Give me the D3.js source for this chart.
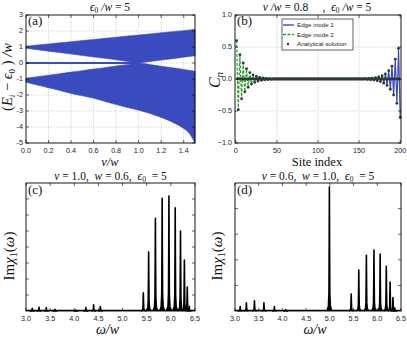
<!DOCTYPE html>
<html lang="en">
<head>
<meta charset="UTF-8">
<title>Edge modes</title>
<style>
  body { margin: 0; background: #fff; }
  svg { display: block; }
  .grid line { stroke: #aaa; stroke-width: 0.6; stroke-dasharray: 1,1.5; }
</style>
</head>
<body>
<svg id="fig" width="407" height="339"></svg>
<script src="https://d3js.org/d3.v7.min.js"></script>
<script>
// ---- panel (a): band edges ----
var vGrid      = [0, 0.1, 0.2, 0.3, 0.4, 0.5, 0.6, 0.7, 0.8, 0.9, 1.0, 1.1, 1.2, 1.3, 1.4, 1.45, 1.5];
var upperTop   = [1.05, 1.12, 1.19, 1.26, 1.33, 1.4, 1.47, 1.54, 1.61, 1.68, 1.75, 1.82, 1.89, 1.96, 2.02, 2.06, 2.1];
var upperBot   = [0.92, 0.83, 0.74, 0.65, 0.56, 0.47, 0.38, 0.29, 0.2, 0.1, 0.0, 0.09, 0.18, 0.27, 0.36, 0.41, 0.45];
var lowerTop   = [-0.95, -0.86, -0.76, -0.67, -0.57, -0.48, -0.38, -0.29, -0.19, -0.1, 0.0, -0.1, -0.2, -0.3, -0.4, -0.46, -0.52];
var lowerBot   = [-1.2, -1.38, -1.55, -1.72, -1.9, -2.05, -2.2, -2.4, -2.6, -2.78, -2.95, -3.15, -3.4, -3.7, -4.1, -4.4, -5.0];
var zeroModeV  = [0, 1.0];
var aXTicks = [0, 0.2, 0.4, 0.6, 0.8, 1.0, 1.2, 1.4];
var aYTicks = [3, 2, 1, 0, -1, -2, -3, -4, -5];

// ---- panel (b): edge mode amplitudes (every other site) ----
var mode2Amps = [0.6, -0.48, 0.38, -0.31, 0.25, -0.2, 0.16, -0.13, 0.1, -0.08, 0.065, -0.052, 0.041, -0.033, 0.026, -0.021, 0.017, -0.013, 0.011, -0.009, 0.007, -0.005];
var mode1Amps = [-0.6, 0.48, -0.38, 0.31, -0.25, 0.2, -0.16, 0.13, -0.1, 0.08, -0.065, 0.052, -0.041, 0.033, -0.026, 0.021, -0.017, 0.013, -0.011, 0.009, -0.007, 0.005];
var nSites = 200;
var bXTicks = [0, 50, 100, 150, 200];
var bYTicks = [1.0, 0.5, 0.0, -0.5, -1.0];

// ---- panels (c), (d): peak positions and heights ----
var cPeakPos = [3.13, 3.27, 3.42, 3.6, 4.03, 4.24, 4.4, 4.54, 5.43, 5.54, 5.68, 5.82, 5.96, 6.09, 6.2, 6.28, 6.34, 6.38];
var cPeakH   = [0.17, 0.23, 0.21, 0.1, 0.05, 0.21, 0.38, 0.28, 1.13, 3.68, 5.8, 7.04, 7.19, 6.45, 5.0, 3.19, 1.49, 0.3];
var dPeakPos = [3.11, 3.24, 3.41, 3.61, 3.83, 4.07, 4.99, 5.45, 5.61, 5.77, 5.93, 6.06, 6.19, 6.27, 6.33, 6.37];
var dPeakH   = [0.17, 0.32, 0.4, 0.32, 0.17, 0.05, 4.84, 0.66, 1.6, 2.18, 2.38, 2.22, 1.75, 1.13, 0.53, 0.12];
var wTicks = [3.0, 3.5, 4.0, 4.5, 5.0, 5.5, 6.0, 6.5];

var svg = d3.select("#fig");
var blue = "#3a4bc0", green = "#2ea02a", dotColor = "#2e3a33";
var SANS = "'Liberation Sans', Arial, sans-serif";
var SERIF = "'Liberation Serif', 'Times New Roman', serif";

function mathText(g, italic) {
  return g.append("text").style("font-family", SERIF)
    .style("font-style", italic ? "italic" : "normal").attr("fill", "#111");
}

function frame(g, x, y) {
  var r = x.range(), s = y.range();
  g.append("rect").attr("x", r[0]).attr("y", s[1])
    .attr("width", r[1] - r[0]).attr("height", s[0] - s[1])
    .attr("fill", "none").attr("stroke", "#000").attr("stroke-width", 0.9);
}

function innerTicks(g, x, y, xt, yt) {
  var r = x.range(), s = y.range();
  xt.forEach(function(t) {
    g.append("line").attr("x1", x(t)).attr("x2", x(t)).attr("y1", s[0]).attr("y2", s[0] - 3).attr("stroke", "#000").attr("stroke-width", 0.6);
    g.append("line").attr("x1", x(t)).attr("x2", x(t)).attr("y1", s[1]).attr("y2", s[1] + 3).attr("stroke", "#000").attr("stroke-width", 0.6);
  });
  yt.forEach(function(t) {
    g.append("line").attr("x1", r[0]).attr("x2", r[0] + 3).attr("y1", y(t)).attr("y2", y(t)).attr("stroke", "#000").attr("stroke-width", 0.6);
    g.append("line").attr("x1", r[1]).attr("x2", r[1] - 3).attr("y1", y(t)).attr("y2", y(t)).attr("stroke", "#000").attr("stroke-width", 0.6);
  });
}

function grid(g, x, y, xt, yt) {
  var r = x.range(), s = y.range();
  var gg = g.append("g").attr("class", "grid");
  xt.forEach(function(t) { gg.append("line").attr("x1", x(t)).attr("x2", x(t)).attr("y1", s[0]).attr("y2", s[1]); });
  yt.forEach(function(t) { gg.append("line").attr("x1", r[0]).attr("x2", r[1]).attr("y1", y(t)).attr("y2", y(t)); });
}

function tickLabels(g, x, y, xt, yt, xfmt, yfmt) {
  var s = y.range(), r = x.range();
  xt.forEach(function(t) {
    g.append("text").style("font", "7.2px " + SANS).attr("fill", "#222")
      .attr("x", x(t)).attr("y", s[0] + 9.5).attr("text-anchor", "middle").text(xfmt(t));
  });
  if (yt) yt.forEach(function(t) {
    g.append("text").style("font", "7.2px " + SANS).attr("fill", "#222")
      .attr("x", r[0] - 3).attr("y", y(t) + 2).attr("text-anchor", "end").text(yfmt(t));
  });
}

function panelLabel(g, x, y, txt) {
  mathText(g, false).attr("x", x).attr("y", y).style("font-size", "13px").text(txt);
}

function sub(t, s, size, dy) {
  t.append("tspan").attr("dy", dy || 2.5).style("font-size", size || "7.5px").style("font-style", "normal").text(s);
}

// ================= (a) =================
(function() {
  var g = svg.append("g");
  var x = d3.scaleLinear().domain([0, 1.5]).range([26, 195]);
  var y = d3.scaleLinear().domain([-5, 3]).range([143, 15]);
  grid(g, x, y, aXTicks.slice(1), aYTicks.slice(1, -1));

  var rows = vGrid.map(function(v, i) {
    return { v: v, ut: upperTop[i], ub: upperBot[i], lt: lowerTop[i], lb: lowerBot[i] };
  });
  var upper = d3.area().x(function(d) { return x(d.v); })
    .y0(function(d) { return y(d.ub); }).y1(function(d) { return y(d.ut); });
  var lower = d3.area().x(function(d) { return x(d.v); })
    .y0(function(d) { return y(d.lb); }).y1(function(d) { return y(d.lt); }).curve(d3.curveMonotoneX);
  g.append("path").attr("d", upper(rows)).attr("fill", blue).attr("stroke", blue).attr("stroke-width", 0.6);
  g.append("path").attr("d", lower(rows)).attr("fill", blue).attr("stroke", blue).attr("stroke-width", 0.6);
  g.append("line").attr("x1", x(zeroModeV[0])).attr("x2", x(zeroModeV[1]))
    .attr("y1", y(0)).attr("y2", y(0)).attr("stroke", blue).attr("stroke-width", 1.8);

  innerTicks(g, x, y, aXTicks, aYTicks);
  frame(g, x, y);
  tickLabels(g, x, y, aXTicks, aYTicks,
    d3.format(".1f"), function(t) { return t < 0 ? "-" + (-t) : "" + t; });
  panelLabel(g, 28, 25, "(a)");

  var t = mathText(g, true).attr("x", 110).attr("y", 10.5).attr("text-anchor", "middle").style("font-size", "11.5px");
  t.append("tspan").text("ϵ");
  sub(t, "0");
  t.append("tspan").attr("dy", -2.5).text(" /w");
  t.append("tspan").style("font-style", "normal").text(" = 5");

  mathText(g, true).attr("x", 110).attr("y", 166).attr("text-anchor", "middle")
    .style("font-size", "12.5px").text("v/w");

  var yl = mathText(g, true).attr("transform", "translate(12,77) rotate(-90)")
    .attr("text-anchor", "middle").style("font-size", "14.5px");
  yl.append("tspan").style("font-style", "normal").text("(");
  yl.append("tspan").text("E");
  yl.append("tspan").attr("dy", 3).style("font-size", "9px").text("i");
  yl.append("tspan").attr("dy", -3).style("font-style", "normal").text(" − ");
  yl.append("tspan").text("ϵ");
  yl.append("tspan").attr("dy", 3).style("font-size", "9px").style("font-style", "normal").text("0");
  yl.append("tspan").attr("dy", -3).style("font-style", "normal").text(" )");
  yl.append("tspan").text(" /w");
})();

// ================= (b) =================
(function() {
  var g = svg.append("g");
  var x = d3.scaleLinear().domain([-1, 201]).range([235, 401]);
  var y = d3.scaleLinear().domain([-1, 1]).range([143, 15]);
  grid(g, x, y, [50, 100, 150], [0.5, 0, -0.5]);

  var sites = d3.range(1, nSites + 1);
  var mode2 = sites.map(function(s) {
    var k = (s - 1) / 2;
    return { s: s, c: (s % 2 === 1 && k < mode2Amps.length) ? mode2Amps[k] : 0 };
  });
  var mode1 = sites.map(function(s) {
    var k = (nSites - s) / 2;
    return { s: s, c: (s % 2 === 0 && k < mode1Amps.length) ? mode1Amps[k] : 0 };
  });
  var line = d3.line().x(function(d) { return x(d.s); }).y(function(d) { return y(d.c); });

  g.append("path").attr("d", line(mode1)).attr("fill", "none").attr("stroke", blue).attr("stroke-width", 1.2);
  g.append("path").attr("d", line(mode2)).attr("fill", "none").attr("stroke", green).attr("stroke-width", 1.2)
    .attr("stroke-dasharray", "3,1.5");
  var analytic = mode2.slice(0, 100).concat(mode1.slice(100));
  g.selectAll("circle.pt").data(analytic).enter().append("circle").attr("class", "pt")
    .attr("cx", function(d) { return x(d.s); }).attr("cy", function(d) { return y(d.c); })
    .attr("r", 1.4).attr("fill", dotColor);

  innerTicks(g, x, y, bXTicks, bYTicks);
  frame(g, x, y);
  tickLabels(g, x, y, bXTicks, bYTicks, d3.format("d"), d3.format(".1f"));
  panelLabel(g, 237, 25, "(b)");

  // legend
  var lg = g.append("g");
  lg.append("rect").attr("x", 282).attr("y", 19).attr("width", 71).attr("height", 31)
    .attr("fill", "#fff").attr("stroke", "#222").attr("stroke-width", 0.7);
  var items = [
    { label: "Edge mode 1", kind: "line" },
    { label: "Edge mode 2", kind: "dash" },
    { label: "Analytical solution", kind: "dot" }
  ];
  items.forEach(function(it, i) {
    var yy = 25 + i * 9.5;
    if (it.kind === "dot") {
      lg.append("circle").attr("cx", 288).attr("cy", yy).attr("r", 1.2).attr("fill", dotColor);
    } else {
      lg.append("line").attr("x1", 283).attr("x2", 294).attr("y1", yy).attr("y2", yy)
        .attr("stroke", it.kind === "line" ? blue : green).attr("stroke-width", 1.4)
        .attr("stroke-dasharray", it.kind === "dash" ? "3,1.5" : null);
    }
    lg.append("text").attr("x", 297).attr("y", yy + 2.2)
      .style("font", "6.2px " + SANS).attr("fill", "#222").text(it.label);
  });

  var t = mathText(g, true).attr("x", 317).attr("y", 10.5).attr("text-anchor", "middle").style("font-size", "11.5px")
    .attr("xml:space", "preserve");
  t.append("tspan").text("v /w");
  t.append("tspan").style("font-style", "normal").text(" = 0.8     ,  ");
  t.append("tspan").text("ϵ");
  sub(t, "0");
  t.append("tspan").attr("dy", -2.5).text(" /w");
  t.append("tspan").style("font-style", "normal").text(" = 5");

  mathText(g, false).attr("x", 317).attr("y", 166).attr("text-anchor", "middle")
    .style("font-size", "12.5px").text("Site index");

  var yl = mathText(g, true).attr("transform", "translate(220,80) rotate(-90)")
    .attr("text-anchor", "middle").style("font-size", "16px");
  yl.append("tspan").text("C");
  yl.append("tspan").attr("dy", 3).style("font-size", "11px").text("n");
})();

// ================= (c), (d) =================
var peakDx = [-0.05, -0.02, -0.009, -0.004, 0, 0.004, 0.009, 0.02, 0.05];
var peakF  = [0, 0.04, 0.15, 0.55, 1, 0.55, 0.15, 0.04, 0];

function spectrum(x0, x1, ymax, yt, pos, h, label, titleParts, labelX) {
  var g = svg.append("g");
  var x = d3.scaleLinear().domain([3.0, 6.5]).range([x0, x1]);
  var y = d3.scaleLinear().domain([0, ymax]).range([311, 183]);
  var line = d3.line().x(function(d) { return x(d[0]); }).y(function(d) { return y(d[1]); });

  g.append("line").attr("x1", x(3.0)).attr("x2", x(6.5)).attr("y1", y(0) - 0.6).attr("y2", y(0) - 0.6)
    .attr("stroke", "#000").attr("stroke-width", 1.2);
  pos.forEach(function(p, i) {
    var pts = peakDx.map(function(dx, j) { return [p + dx, h[i] * peakF[j]]; });
    g.append("path").attr("d", line(pts)).attr("fill", "#000").attr("stroke", "#000")
      .attr("stroke-width", 1.6).attr("stroke-linejoin", "round");
  });

  innerTicks(g, x, y, wTicks, yt);
  frame(g, x, y);
  tickLabels(g, x, y, wTicks, null, d3.format(".1f"));
  panelLabel(g, x0 + 2, 194, label);

  var cx = (x0 + x1) / 2;
  var t = mathText(g, true).attr("x", cx).attr("y", 179.5).attr("text-anchor", "middle").style("font-size", "11.5px")
    .attr("xml:space", "preserve");
  t.append("tspan").text("v");
  t.append("tspan").style("font-style", "normal").text(" = " + titleParts[0] + ",  ");
  t.append("tspan").text("w");
  t.append("tspan").style("font-style", "normal").text(" = " + titleParts[1] + ",  ");
  t.append("tspan").text("ϵ");
  sub(t, "0");
  t.append("tspan").attr("dy", -2.5).style("font-style", "normal").text("  = 5");

  mathText(g, true).attr("x", cx - 3).attr("y", 334).attr("text-anchor", "middle")
    .style("font-size", "14px").text("ω/w");

  var yl = mathText(g, false).attr("transform", "translate(" + labelX + ",256) rotate(-90)")
    .attr("text-anchor", "middle").style("font-size", "15px");
  yl.append("tspan").text("Im");
  yl.append("tspan").style("font-style", "italic").text("χ");
  yl.append("tspan").attr("dy", 3).style("font-size", "10px").text("1");
  yl.append("tspan").attr("dy", -3).text("(");
  yl.append("tspan").style("font-style", "italic").text("ω");
  yl.append("tspan").text(")");
}

spectrum(26, 195, 8, d3.range(1, 8), cPeakPos, cPeakH, "(c)", ["1.0", "0.6"], 14);
spectrum(235, 401, 5, d3.range(1, 5), dPeakPos, dPeakH, "(d)", ["0.6", "1.0"], 222);
</script>
</body>
</html>
